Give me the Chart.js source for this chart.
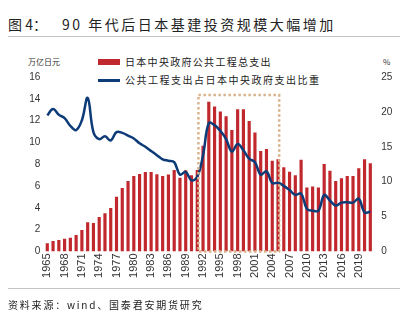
<!DOCTYPE html>
<html>
<head>
<meta charset="utf-8">
<script src="https://cdn.jsdelivr.net/npm/chart.js@4"></script>
<style>
    body { margin: 0; background: #fff; }
    #page { position: relative; width: 400px; height: 329px; overflow: hidden; font-family: "Noto Sans CJK SC", sans-serif; color: #222; }
    .abs { position: absolute; white-space: nowrap; }
    .rule { position: absolute; left: 8px; right: 0; height: 1px; background: #c4c4c4; }
    #wrap { position: absolute; left: 0; top: 40px; width: 400px; height: 250px; }
</style>
</head>
<body>
<div id="page">
    <div class="abs" style="left:8px;top:14px;font-size:14px;line-height:20px;">图 4：</div>
    <div class="abs" style="left:62px;top:14px;font-size:14px;line-height:20px;letter-spacing:2.5px;">90 年代后日本基建投资规模大幅增加</div>
    <div class="rule" style="top:36px;"></div>

    <div class="abs" style="left:28px;top:56px;font-size:8px;line-height:12px;color:#333;">万亿日元</div>
    <div class="abs" style="left:383px;top:56px;font-size:8px;line-height:12px;color:#333;">%</div>

    <div class="abs" style="left:98px;top:59px;width:22px;height:6px;background:#C0282E;"></div>
    <div class="abs" style="left:125px;top:55px;font-size:10px;line-height:14px;letter-spacing:1.3px;">日本中央政府公共工程总支出</div>
    <div class="abs" style="left:98px;top:79px;width:22px;height:2.5px;background:#0D3B78;"></div>
    <div class="abs" style="left:125px;top:73px;font-size:10px;line-height:14px;letter-spacing:1.5px;">公共工程支出占日本中央政府支出比重</div>

    <div id="wrap"><canvas id="chart_japan" width="400" height="250"></canvas></div>

    <div class="rule" style="top:288px;"></div>
    <div class="abs" style="left:8px;top:298px;font-size:10px;line-height:14px;letter-spacing:1.8px;">资料来源：wind、国泰君安期货研究</div>
</div>

<script>
const years = [];
for (let y = 1965; y <= 2021; y++) years.push(String(y));

// 日本中央政府公共工程总支出（万亿日元）
const spending = [
    0.75, 0.96, 1.05, 1.17, 1.27, 1.51, 1.97, 2.68, 2.61, 3.17,
    3.5, 3.99, 5.03, 5.83, 6.47, 6.93, 7.11, 7.29, 7.29, 7.08,
    6.93, 7.05, 7.48, 6.77, 7.45, 6.99, 7.48, 9.7, 13.74, 13.3,
    12.83, 12.4, 11.15, 13.04, 13.04, 11.97, 10.9, 9.22, 9.4, 8.33,
    8.46, 7.72, 7.32, 6.99, 8.42, 5.86, 5.95, 5.86, 8.03, 7.41,
    6.47, 6.71, 6.93, 6.93, 7.63, 8.46, 8.09
];

// 公共工程支出占日本中央政府支出比重（%）
const share = [
    19.5, 20.4, 19.6, 19.1, 18.0, 17.4, 18.8, 22.0, 17.1, 16.1,
    16.5, 15.9, 17.1, 17.0, 16.6, 16.2, 15.5, 15.0, 14.4, 13.8,
    13.2, 13.0, 12.8, 11.0, 11.4, 10.2, 10.7, 13.8, 18.4, 18.1,
    17.3, 16.1, 14.3, 15.4, 14.5, 13.3, 12.8, 11.0, 11.5, 9.8,
    9.85, 9.4, 8.8, 8.1, 8.3, 6.1, 5.85, 5.85, 8.1, 7.3,
    6.6, 7.0, 7.05, 7.0, 7.55, 5.6, 5.7
];

const leftTicks = { min: 0, max: 16, step: 2 };
const rightTicks = { min: 0, max: 25, step: 5 };

// 虚线框：1992-2005 年
const boxRange = { from: 26.2, to: 40.2, top: 14.35 };

const tickFont = { family: "'Liberation Sans', Arial, sans-serif", size: 10 };

const dottedBox = {
    id: 'dottedBox',
    afterDatasetsDraw(chart) {
        const ctx = chart.ctx;
        const x = chart.scales.x;
        const y = chart.scales.y;
        const left = x.getPixelForValue(boxRange.from);
        const right = x.getPixelForValue(boxRange.to);
        const top = y.getPixelForValue(boxRange.top);
        const bottom = y.getPixelForValue(0);
        ctx.save();
        ctx.strokeStyle = '#D8B38C';
        ctx.lineWidth = 2.5;
        ctx.setLineDash([2.5, 2.5]);
        ctx.strokeRect(left, top, right - left, bottom - top);
        ctx.restore();
    }
};

new Chart(document.querySelector('#chart_japan'), {
    type: 'bar',
    data: {
        labels: years,
        datasets: [
            {
                type: 'line',
                label: '公共工程支出占日本中央政府支出比重',
                data: share,
                yAxisID: 'y1',
                borderColor: '#0D3B78',
                borderWidth: 2.5,
                pointRadius: 0,
                tension: 0.4,
                fill: false
            },
            {
                label: '日本中央政府公共工程总支出',
                data: spending,
                yAxisID: 'y',
                backgroundColor: '#C0282E',
                categoryPercentage: 1,
                barPercentage: 0.55
            }
        ]
    },
    options: {
        responsive: false,
        animation: false,
        devicePixelRatio: 1,
        layout: { padding: { top: 37, left: 0, right: 0, bottom: 0 } },
        plugins: {
            legend: { display: false },
            title: { display: false },
            tooltip: { enabled: false }
        },
        scales: {
            x: {
                grid: { display: false, drawTicks: false },
                border: { display: false },
                ticks: {
                    autoSkip: false,
                    minRotation: 90,
                    maxRotation: 90,
                    padding: 2,
                    color: '#333',
                    font: { family: tickFont.family, size: 11 },
                    callback: function(val, idx) { return idx % 3 === 0 ? years[idx] : ''; }
                },
                afterFit: function(scale) { scale.height = 38.5; }
            },
            y: {
                position: 'left',
                min: leftTicks.min,
                max: leftTicks.max,
                grid: { display: false, drawTicks: false },
                border: { display: false },
                ticks: { stepSize: leftTicks.step, padding: 4, color: '#333', font: tickFont },
                afterFit: function(scale) { scale.width = 44.4; }
            },
            y1: {
                position: 'right',
                min: rightTicks.min,
                max: rightTicks.max,
                grid: { display: false, drawTicks: false },
                border: { display: false },
                ticks: { stepSize: rightTicks.step, padding: 8, color: '#333', font: tickFont },
                afterFit: function(scale) { scale.width = 26.8; }
            }
        }
    },
    plugins: [dottedBox]
});
</script>
</body>
</html>
